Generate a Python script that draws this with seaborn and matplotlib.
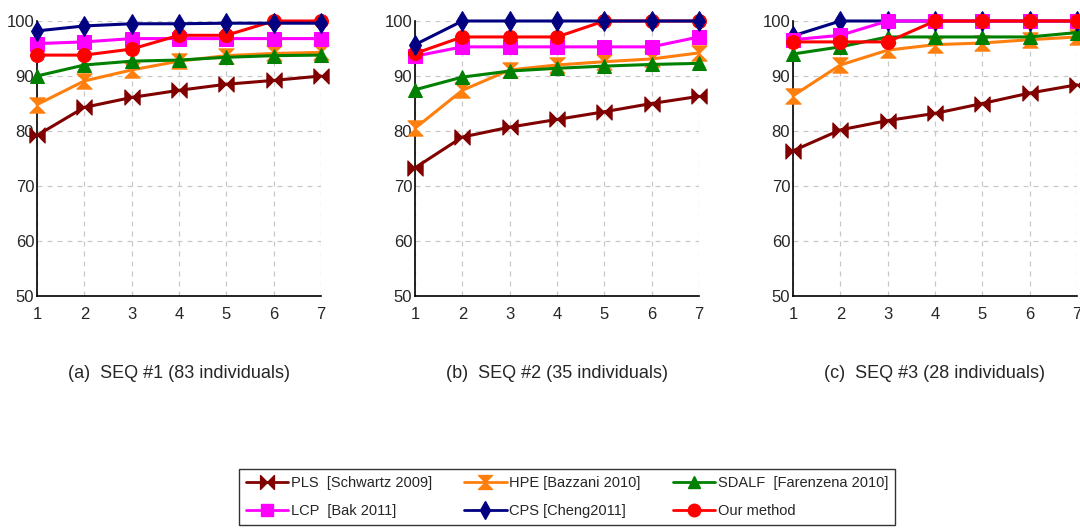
import numpy as np
import pandas as pd
import seaborn as sns
import matplotlib.pyplot as plt
from matplotlib.path import Path
from matplotlib.lines import Line2D

rank = [1, 2, 3, 4, 5, 6, 7]
methods = ["PLS  [Schwartz 2009]", "HPE [Bazzani 2010]", "SDALF  [Farenzena 2010]",
           "LCP  [Bak 2011]", "CPS [Cheng2011]", "Our method"]

# SEQ #1
seq1_pls = [79.2, 84.3, 86.1, 87.4, 88.5, 89.2, 90.0]
seq1_hpe = [84.8, 89.1, 91.1, 92.7, 93.7, 94.1, 94.3]
seq1_sdalf = [90.0, 92.0, 92.7, 92.9, 93.4, 93.7, 93.8]
seq1_lcp = [95.9, 96.2, 96.8, 96.8, 96.8, 96.8, 96.8]
seq1_cps = [98.2, 99.1, 99.5, 99.5, 99.6, 99.6, 99.6]
seq1_ours = [93.8, 93.8, 94.9, 97.4, 97.4, 100.0, 100.0]

# SEQ #2
seq2_pls = [73.3, 78.9, 80.7, 82.1, 83.5, 85.0, 86.3]
seq2_hpe = [80.5, 87.4, 91.1, 92.0, 92.6, 93.1, 94.2]
seq2_sdalf = [87.5, 89.8, 90.9, 91.4, 91.8, 92.1, 92.3]
seq2_lcp = [93.6, 95.3, 95.3, 95.3, 95.3, 95.3, 97.1]
seq2_cps = [95.7, 100.0, 100.0, 100.0, 100.0, 100.0, 100.0]
seq2_ours = [94.1, 97.1, 97.1, 97.1, 100.0, 100.0, 100.0]

# SEQ #3
seq3_pls = [76.4, 80.2, 81.9, 83.2, 85.0, 86.9, 88.4]
seq3_hpe = [86.4, 92.0, 94.7, 95.7, 96.0, 96.6, 97.1]
seq3_sdalf = [94.0, 95.3, 97.1, 97.1, 97.1, 97.1, 97.9]
seq3_lcp = [96.6, 97.4, 100.0, 100.0, 100.0, 100.0, 100.0]
seq3_cps = [97.3, 100.0, 100.0, 100.0, 100.0, 100.0, 100.0]
seq3_ours = [96.2, 96.2, 96.2, 100.0, 100.0, 100.0, 100.0]

captions = ["(a)  SEQ #1 (83 individuals)", "(b)  SEQ #2 (35 individuals)",
            "(c)  SEQ #3 (28 individuals)"]

panels = [
    [seq1_pls, seq1_hpe, seq1_sdalf, seq1_lcp, seq1_cps, seq1_ours],
    [seq2_pls, seq2_hpe, seq2_sdalf, seq2_lcp, seq2_cps, seq2_ours],
    [seq3_pls, seq3_hpe, seq3_sdalf, seq3_lcp, seq3_cps, seq3_ours],
]

colors = ["#800000", "#ff7f0e", "#008000", "#ff00ff", "#000080", "#ff0000"]

# custom markers: bowtie for PLS, hourglass for HPE
bowtie = Path([(-1, 1), (1, -1), (1, 1), (-1, -1), (-1, 1)],
              [Path.MOVETO, Path.LINETO, Path.LINETO, Path.LINETO, Path.CLOSEPOLY])
hourglass = Path([(-1, 1), (1, 1), (-1, -1), (1, -1), (-1, 1)],
                 [Path.MOVETO, Path.LINETO, Path.LINETO, Path.LINETO, Path.CLOSEPOLY])
markers = [bowtie, hourglass, "^", "s", "d", "o"]
msizes = [11, 11, 10, 10, 10, 10]

# drawing order per panel (index into methods)
orders = [[0, 1, 2, 3, 5, 4], [0, 1, 2, 3, 5, 4], [0, 1, 2, 4, 3, 5]]

sns.set_style("white")
plt.rcParams["font.family"] = ["Liberation Sans", "DejaVu Sans"]

fig = plt.figure(figsize=(10.8, 5.32), dpi=100)
lefts = [37, 415, 793]
for p in range(3):
    ax = fig.add_axes([lefts[p] / 1080, 1 - 296 / 532, 284 / 1080, 275 / 532])
    for z, i in enumerate(orders[p]):
        df = pd.DataFrame({"rank": rank, "rate": panels[p][i]})
        sns.lineplot(data=df, x="rank", y="rate", ax=ax, color=colors[i],
                     marker=markers[i], markersize=msizes[i], markeredgecolor=colors[i],
                     linewidth=2.2, clip_on=False, zorder=3 + z)
    ax.set_xlim(1, 7)
    ax.set_ylim(50, 100)
    ax.set_xticks(rank)
    ax.set_yticks([50, 60, 70, 80, 90, 100])
    ax.grid(True, linestyle=(0, (4, 4)), color="#c8c8c8", linewidth=0.9)
    ax.set_axisbelow(True)
    ax.set_xlabel("")
    ax.set_ylabel("")
    for s in ["top", "right"]:
        ax.spines[s].set_visible(False)
    for s in ["left", "bottom"]:
        ax.spines[s].set_color("black")
        ax.spines[s].set_linewidth(1.2)
    ax.tick_params(labelsize=12, length=0)
    ax.tick_params(axis="x", pad=8)
    ax.tick_params(axis="y", pad=2)
    cx = (lefts[p] + 142) / 1080
    fig.text(cx, 1 - 373 / 532, captions[p], ha="center", va="center", fontsize=13)

# legend filled row by row like the original
leg_order = [0, 3, 1, 4, 2, 5]
handles = [Line2D([0], [0], color=colors[i], marker=markers[i], markersize=msizes[i] - 1,
                  markeredgecolor=colors[i], linewidth=2) for i in leg_order]
labels = [methods[i] for i in leg_order]
leg = fig.legend(handles, labels, ncol=3, loc="upper left",
                 bbox_to_anchor=(232 / 1080, 1 - 462 / 532), fontsize=10.5,
                 frameon=True, fancybox=False, edgecolor="black", handlelength=2.9,
                 handletextpad=0.2, columnspacing=2.2, borderpad=0.45, labelspacing=1.0)
leg.get_frame().set_linewidth(1.0)

fig.savefig("out.png", dpi=100)
